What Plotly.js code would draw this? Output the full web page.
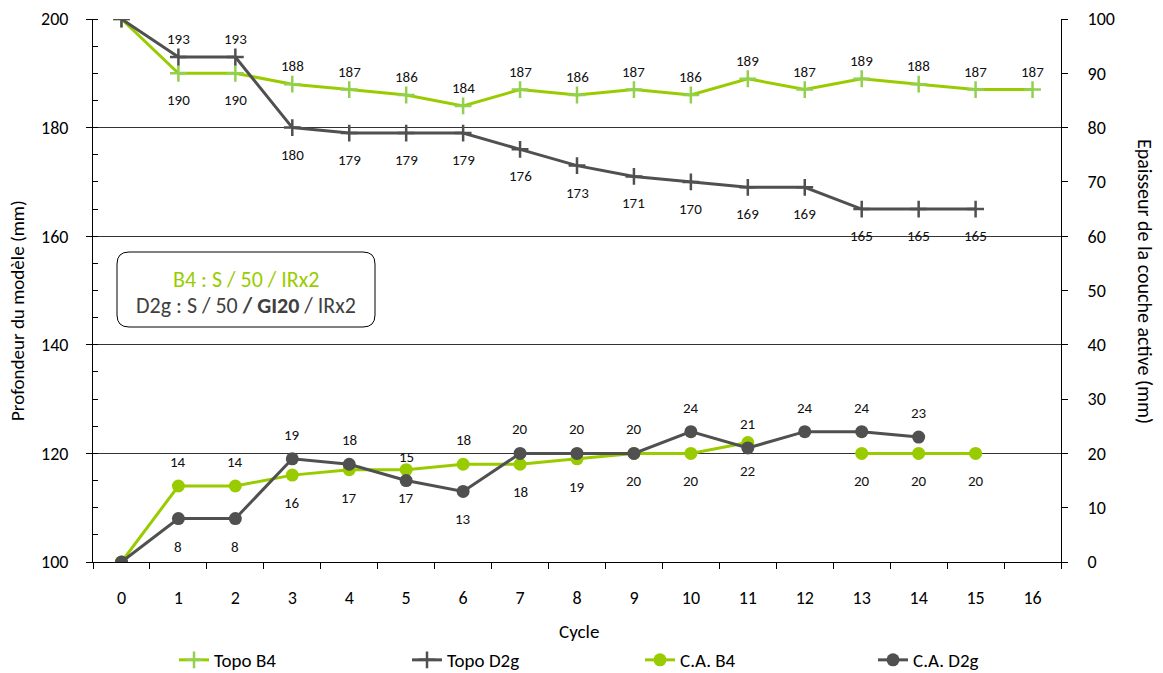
<!DOCTYPE html>
<html><head><meta charset="utf-8">
<script src="https://cdn.plot.ly/plotly-3.0.1.min.js"></script>
<style>html,body{margin:0;padding:0;background:#fff}#chart{width:1163px;height:673px}</style>
</head><body><div id="chart"></div>
<script>
// ---- data ----
const cycles = ['0','1','2','3','4','5','6','7','8','9','10','11','12','13','14','15','16'];
const topoB4  = [200,190,190,188,187,186,184,187,186,187,186,189,187,189,188,187,187];
const topoD2g = [200,193,193,180,179,179,179,176,173,171,170,169,169,165,165,165];
const caB4    = [0,14,14,16,17,17,18,18,19,20,20,22,null,20,20,20];
const caD2g   = [0,8,8,19,18,15,13,20,20,20,24,21,24,24,23];
const seriesNames = ['Topo B4','Topo D2g','C.A. B4','C.A. D2g'];
const boxLine1 = 'B4 : S / 50 / IRx2';
const boxLine2 = 'D2g : S / 50 <b>/ GI20</b> / IRx2';

// ---- style ----
const GREEN = '#99CC00', GREEN_M = '#92D050', GRAY = '#505050';
const FONT = 'Carlito, Lato, "Open Sans", sans-serif';
const W = 1163, H = 673, L = 93, R = 102, T = 19, B = 111;
const PW = W - L - R, PH = H - T - B;

function lineTrace(name, y, color, symbol, yaxis, mcolor) {
  const t = {
    type: 'scatter', mode: 'lines+markers', name: name,
    x: cycles.slice(0, y.length), y: y, yaxis: yaxis,
    line: {color: color, width: 3},
    connectgaps: false, hoverinfo: 'x+y'
  };
  if (symbol === 'cross') {
    t.marker = {symbol: 'cross-thin', size: 12, line: {color: mcolor, width: 2.5}, color: mcolor};
  } else {
    t.marker = {symbol: 'circle', size: 13, color: color};
  }
  return t;
}

const traces = [
  lineTrace(seriesNames[0], topoB4, GREEN, 'cross', 'y', GREEN_M),
  lineTrace(seriesNames[1], topoD2g, GRAY, 'cross', 'y', GRAY),
  lineTrace(seriesNames[2], caB4, GREEN, 'circle', 'y2'),
  lineTrace(seriesNames[3], caD2g, GRAY, 'circle', 'y2')
];

// label placement rules: indices where the label goes on the "other" side
function labels(y, yref, defaultUp, flipIdx, upShift, downShift) {
  const out = [];
  y.forEach((v, i) => {
    if (i === 0 || v === null) return;
    const up = flipIdx.includes(i) ? !defaultUp : defaultUp;
    out.push({
      x: cycles[i], y: v, xref: 'x', yref: yref, text: String(v),
      showarrow: false, yshift: up ? upShift : -downShift,
      font: {family: FONT, size: 15, color: '#111'}
    });
  });
  return out;
}

const annotations = [].concat(
  labels(topoB4, 'y', true, [1,2], 18, 27),
  labels(topoD2g, 'y', false, [1,2], 18, 27),
  labels(caB4, 'y2', false, [1,2,6], 24, 28),
  labels(caD2g, 'y2', true, [1,2,6], 24, 28),
  [
    {xref:'paper', yref:'paper', x: (246-L)/PW, y: 1-(279-T)/PH, xanchor:'center', yanchor:'middle',
     text: boxLine1, showarrow:false, font:{family:FONT, size:22, color:GREEN}},
    {xref:'paper', yref:'paper', x: (246-L)/PW, y: 1-(305-T)/PH, xanchor:'center', yanchor:'middle',
     text: boxLine2, showarrow:false, font:{family:FONT, size:22, color:'#404040'}},
    {xref:'paper', yref:'paper', x: (17-L)/PW, y: 1-(311-T)/PH, xanchor:'center', yanchor:'middle',
     text: 'Profondeur du modèle (mm)', textangle:-90,
     showarrow:false, font:{family:FONT, size:19, color:'#000'}},
    {xref:'paper', yref:'paper', x: (1145-L)/PW, y: 1-(281-T)/PH, xanchor:'center', yanchor:'middle',
     text: 'Epaisseur de la couche active (mm)', textangle:90,
     showarrow:false, font:{family:FONT, size:20, color:'#000'}},
    {xref:'paper', yref:'paper', x: (579-L)/PW, y: -(631-562)/PH, xanchor:'center', yanchor:'middle',
     text: 'Cycle', showarrow:false, font:{family:FONT, size:19, color:'#000'}}
  ]
);

// rounded box
const bx0 = (117-L)/PW, bx1 = (375-L)/PW, by1 = 1-(252-T)/PH, by0 = 1-(327-T)/PH;
const rx = 12/PW, ry = 12/PH;
const boxPath = `M ${bx0+rx},${by1} L ${bx1-rx},${by1} Q ${bx1},${by1} ${bx1},${by1-ry} L ${bx1},${by0+ry} Q ${bx1},${by0} ${bx1-rx},${by0} L ${bx0+rx},${by0} Q ${bx0},${by0} ${bx0},${by0+ry} L ${bx0},${by1-ry} Q ${bx0},${by1} ${bx0+rx},${by1} Z`;

const layout = {
  width: W, height: H,
  margin: {l: L, r: R, t: T, b: B, autoexpand: false},
  paper_bgcolor: '#fff', plot_bgcolor: '#fff',
  font: {family: FONT, size: 18, color: '#000'},
  showlegend: true,
  legend: {orientation: 'h', x: (174-L)/PW, xanchor: 'left', y: -(660-562)/PH, yanchor: 'middle',
           entrywidth: 188, entrywidthmode: 'pixels', font: {family: FONT, size: 19, color: '#000'}},
  xaxis: {type: 'category', range: [-0.5, 16.5], tickson: 'boundaries', ticks: 'outside', ticklen: 6,
          tickcolor: '#000', showline: true, linecolor: '#000', linewidth: 1, showgrid: false,
          zeroline: false, tickfont: {size: 18}, ticklabelstandoff: 19, fixedrange: true},
  yaxis: {range: [100, 200], dtick: 20, tick0: 100, showgrid: true, gridcolor: '#333', gridwidth: 1,
          showline: true, linecolor: '#000', linewidth: 1, ticks: 'outside', ticklen: 6, tickcolor: '#000',
          minor: {dtick: 5, ticks: 'inside', ticklen: 5, tickcolor: '#000', showgrid: false},
          zeroline: false, tickfont: {size: 18}, ticklabelstandoff: 14},
  yaxis2: {range: [0, 100], dtick: 10, tick0: 0, overlaying: 'y', side: 'right', showgrid: false,
           showline: true, linecolor: '#000', linewidth: 1, ticks: 'outside', ticklen: 6, tickcolor: '#000',
           zeroline: false, tickfont: {size: 18}, ticklabelstandoff: 16},
  shapes: [{type: 'path', xref: 'paper', yref: 'paper', path: boxPath,
            line: {color: '#000', width: 1}, fillcolor: '#fff', layer: 'above'}],
  annotations: annotations
};

Plotly.newPlot('chart', traces, layout, {displayModeBar: false, staticPlot: true});
</script></body></html>
